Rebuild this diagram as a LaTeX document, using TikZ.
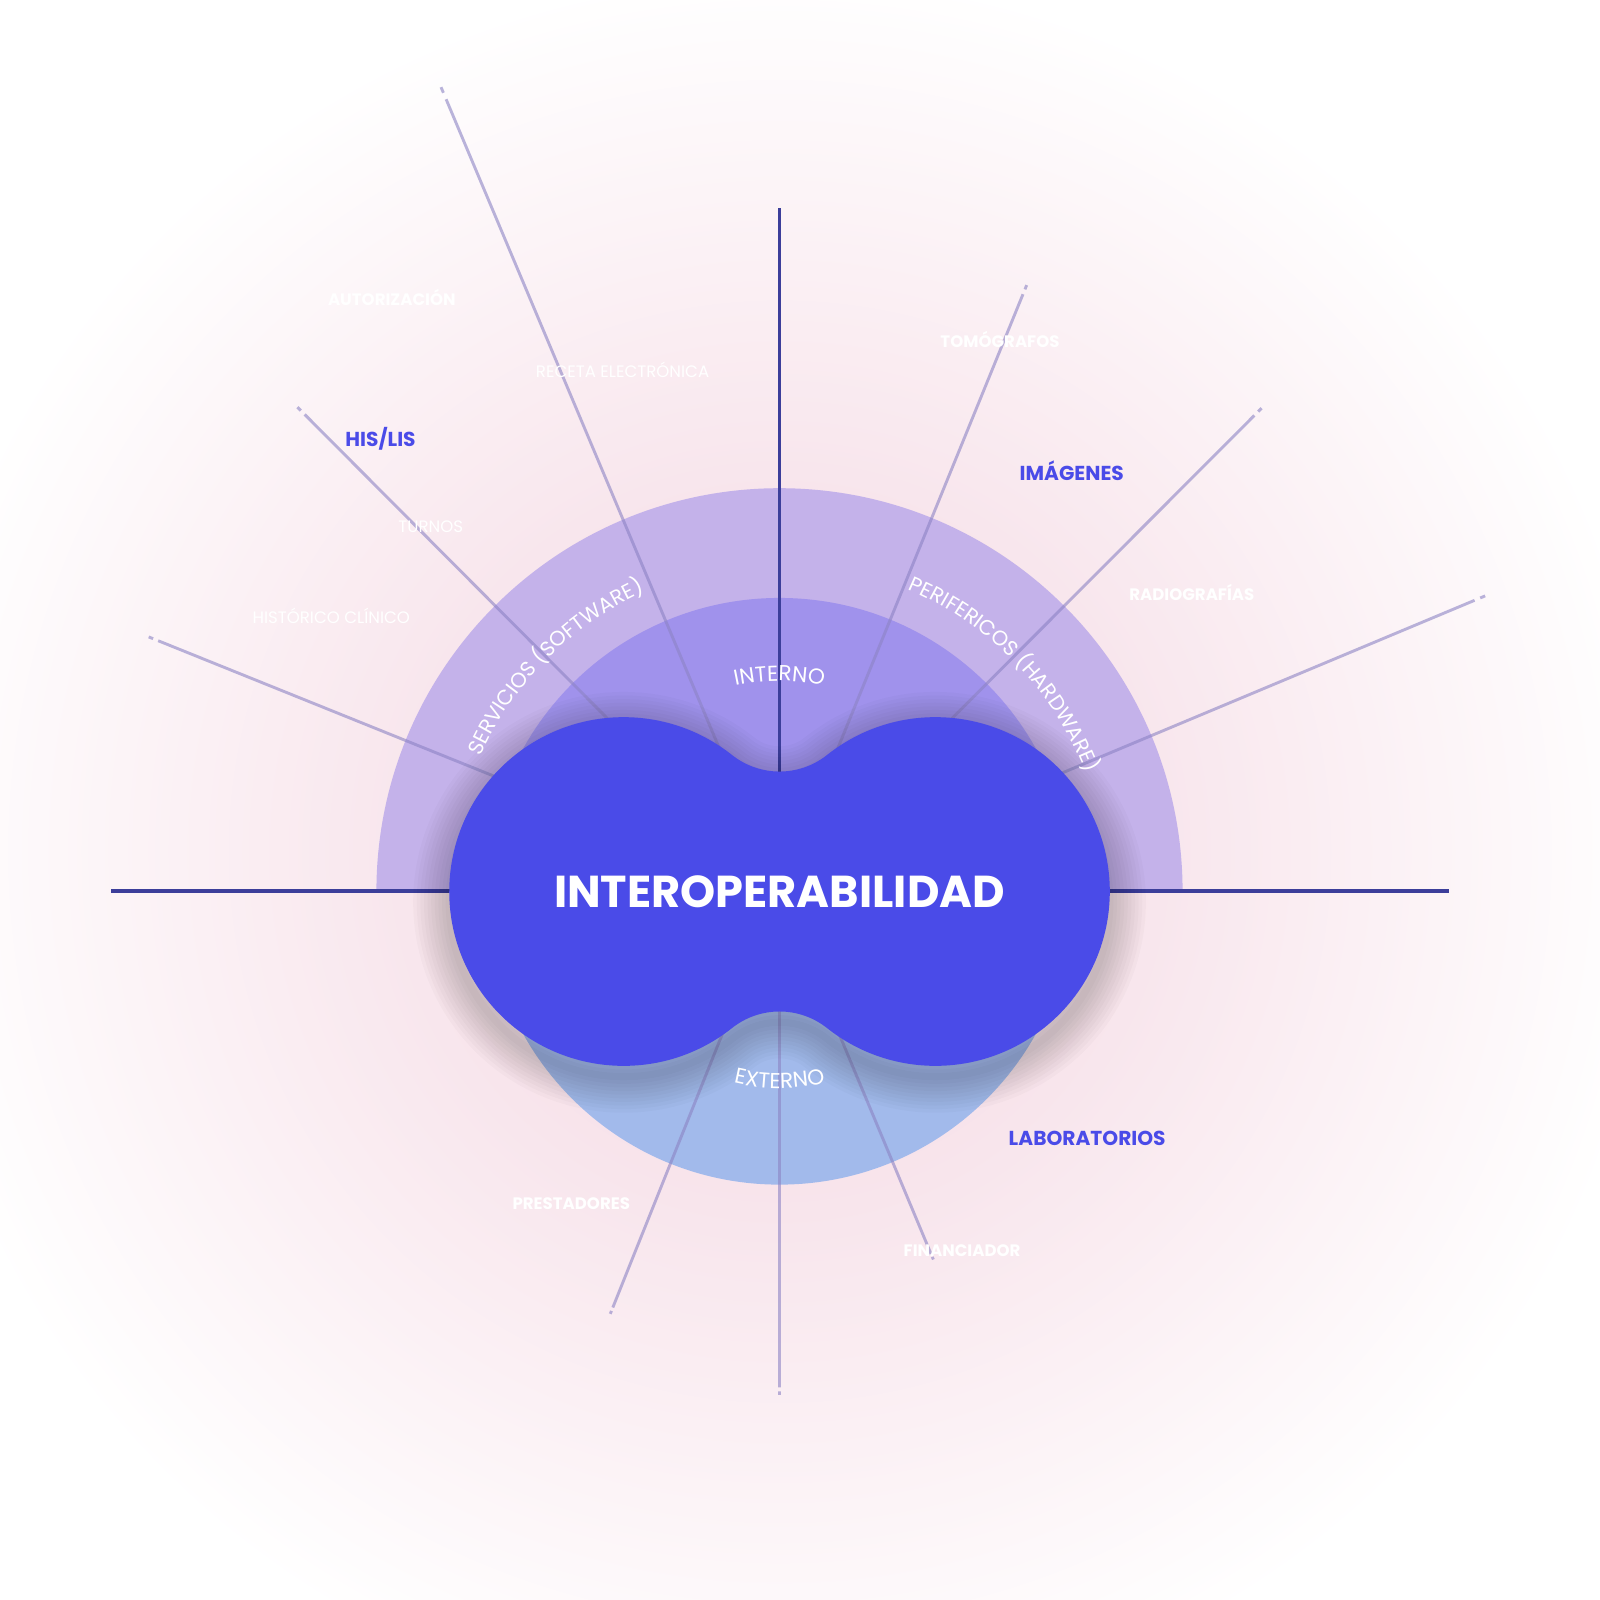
\documentclass[tikz,border=0pt]{standalone}
\usepackage{fontspec}
\setmainfont{Poppins}
\usetikzlibrary{decorations.text,calc}
\definecolor{bgpink}{HTML}{F3D3DF}
\definecolor{ringc}{HTML}{C4B2EA}
\definecolor{intc}{HTML}{A092EC}
\definecolor{extc}{HTML}{A2BAEB}
\definecolor{blobc}{HTML}{4A4BE8}
\definecolor{axisc}{HTML}{3C3E9A}
\definecolor{rayc}{HTML}{8C83C4}
\tikzset{
  axis/.style={draw=axisc,line width=1pt},
  ray/.style={draw=rayc,line width=0.8pt,draw opacity=0.6},
  wlab/.style={text=white,font=\fontsize{4.6}{5}\selectfont},
  wblab/.style={text=white,font=\bfseries\fontsize{4.6}{5}\selectfont},
  blab/.style={text=blobc,font=\bfseries\fontsize{5.6}{6}\selectfont},
}
\def\blobpath{(7.137,-7.361) arc[start angle=231.55,end angle=308.45,radius=0.745]
  arc[start angle=128.45,end angle=-128.45,radius=1.70]
  arc[start angle=51.55,end angle=128.45,radius=0.745]
  arc[start angle=-51.55,end angle=-308.45,radius=1.70] -- cycle}
\begin{document}
\begin{tikzpicture}
\fill[white] (0,0) rectangle (15.6,-15.6);
\useasboundingbox (0,0) rectangle (15.6,-15.6);
\begin{scope}
\clip (0,0) rectangle (15.6,-15.6);
\shade[inner color=bgpink,outer color=white] (7.6,-8.3) circle[radius=8.6];
\end{scope}
\coordinate (C) at (7.60,-8.69);
% rings
\fill[ringc] (3.67,-8.69) arc[start angle=180,end angle=0,radius=3.93] -- cycle;
\fill[intc] (4.74,-8.69) arc[start angle=180,end angle=0,radius=2.86] -- cycle;
\fill[extc] (4.74,-8.69) arc[start angle=180,end angle=360,radius=2.86] -- cycle;
% axes and rays
\coordinate (eT) at (7.60,-2.03);
\coordinate (eL) at (1.08,-8.69);
\coordinate (eR) at (14.13,-8.69);
\draw[axis] (C) -- (eT);
\draw[axis] (C) -- (eL);
\draw[axis] (C) -- (eR);
\foreach \x/\y [count=\i] in {4.30/-0.85, 2.90/-3.97, 1.45/-6.21, 10.01/-2.78, 12.30/-3.98, 14.48/-5.81, 5.95/-12.81, 9.10/-12.28, 7.60/-13.60}{
  \coordinate (r\i) at (\x,\y);
  \draw[ray] (C) -- ($(C)!0.985!(r\i)$);
  \draw[ray] ($(C)!0.993!(r\i)$) -- (r\i);
}
% shadow
\begin{scope}[yshift=-3pt]
\foreach \w in {2,4,...,20}{
  \draw[black,draw opacity=0.018,line width=\w pt,line join=round] \blobpath;
}
\end{scope}
% blob
\fill[blobc] \blobpath;
\node[text=white,font=\bfseries\fontsize{12.4}{14}\selectfont] (main) at (7.60,-8.69) {INTEROPERABILIDAD};
% curved
\path[decorate,decoration={text along path,text align=center,
  text={|\color{white}\fontsize{5.8}{6}\selectfont|SERVICIOS (SOFTWARE)}}]
  ($(C)+(162:3.20)$) arc[start angle=162,end angle=108,radius=3.20];
\path[decorate,decoration={text along path,text align=center,
  text={|\color{white}\fontsize{5.8}{6}\selectfont|PERIFERICOS (HARDWARE)}}]
  ($(C)+(74:3.20)$) arc[start angle=74,end angle=14,radius=3.20];
\path[decorate,decoration={text along path,text align=center,
  text={|\color{white}\fontsize{6}{6}\selectfont|INTERNO}}]
  ($(C)+(102:2.05)$) arc[start angle=102,end angle=78,radius=2.05];
\path[decorate,decoration={text along path,text align=center,
  text={|\color{white}\fontsize{6}{6}\selectfont|EXTERNO}}]
  ($(C)+(258:1.92)$) arc[start angle=258,end angle=282,radius=1.92];
% labels
\node[wblab] (l1) at (3.82,-2.90) {AUTORIZACIÓN};
\node[wlab] (l2) at (6.07,-3.61) {RECETA ELECTRÓNICA};
\node[blab] (l3) at (3.71,-4.28) {HIS/LIS};
\node[wlab] (l4) at (4.20,-5.14) {TURNOS};
\node[wlab] (l5) at (3.23,-6.00) {HISTÓRICO CLÍNICO};
\node[wblab] (l6) at (9.75,-3.31) {TOMÓGRAFOS};
\node[blab] (l7) at (10.45,-4.59) {IMÁGENES};
\node[wblab] (l8) at (11.62,-5.78) {RADIOGRAFÍAS};
\node[blab] (l9) at (10.60,-11.10) {LABORATORIOS};
\node[wblab] (l10) at (5.57,-11.74) {PRESTADORES};
\node[wblab] (l11) at (9.38,-12.19) {FINANCIADOR};
\end{tikzpicture}
\end{document}
